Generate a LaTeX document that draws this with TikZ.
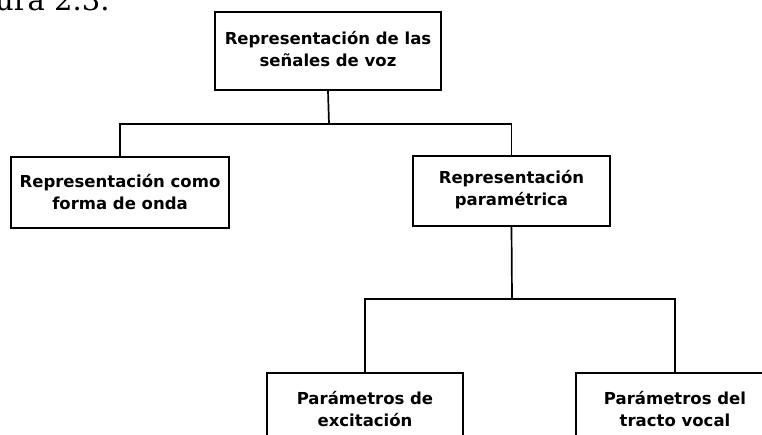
\documentclass[tikz,border=0pt]{standalone}
\usepackage{fontspec}
\setmainfont{DejaVu Sans}
\newfontfamily\capfont{DejaVu Serif}
\begin{document}
\begin{tikzpicture}[x=1pt,y=-1pt,
  box/.style={draw=black, line width=1.9pt, rectangle, minimum height=70pt, align=center, font=\fontsize{16.5}{22}\selectfont\bfseries, inner sep=0pt},
  conn/.style={draw=black, line width=1.7pt}]
\useasboundingbox (0,0) rectangle (762,435);
\clip (0,0) rectangle (762,435);
\node[anchor=base west, font=\capfont\fontsize{29}{32}\selectfont, inner sep=0pt] (cap) at (-5,11) {ura 2.3.};
\node[box, minimum width=226pt, minimum height=78pt, text depth=5pt] (top) at (328,51) {Representación de las\\señales de voz};
\node[box, minimum width=218pt, minimum height=71pt] (wave) at (120,192.5) {Representación como\\forma de onda};
\node[box, minimum width=197pt, minimum height=70pt, text depth=6pt] (param) at (511.5,191) {Representación\\paramétrica};
\node[box, minimum width=196pt, minimum height=72pt] (exc) at (365,409) {Parámetros de\\excitación};
\node[box, minimum width=198pt, minimum height=72pt] (tract) at (675,409) {Parámetros del\\tracto vocal};
\coordinate (j1) at (329,124);
\coordinate (j2) at (512,299);
\draw[conn] (top.south) -- (j1);
\draw[conn] (wave.north) |- (j1) -| (param.north);
\draw[conn] (param.south) -- (j2);
\draw[conn] (exc.north) |- (j2) -| (tract.north);
\end{tikzpicture}
\end{document}
